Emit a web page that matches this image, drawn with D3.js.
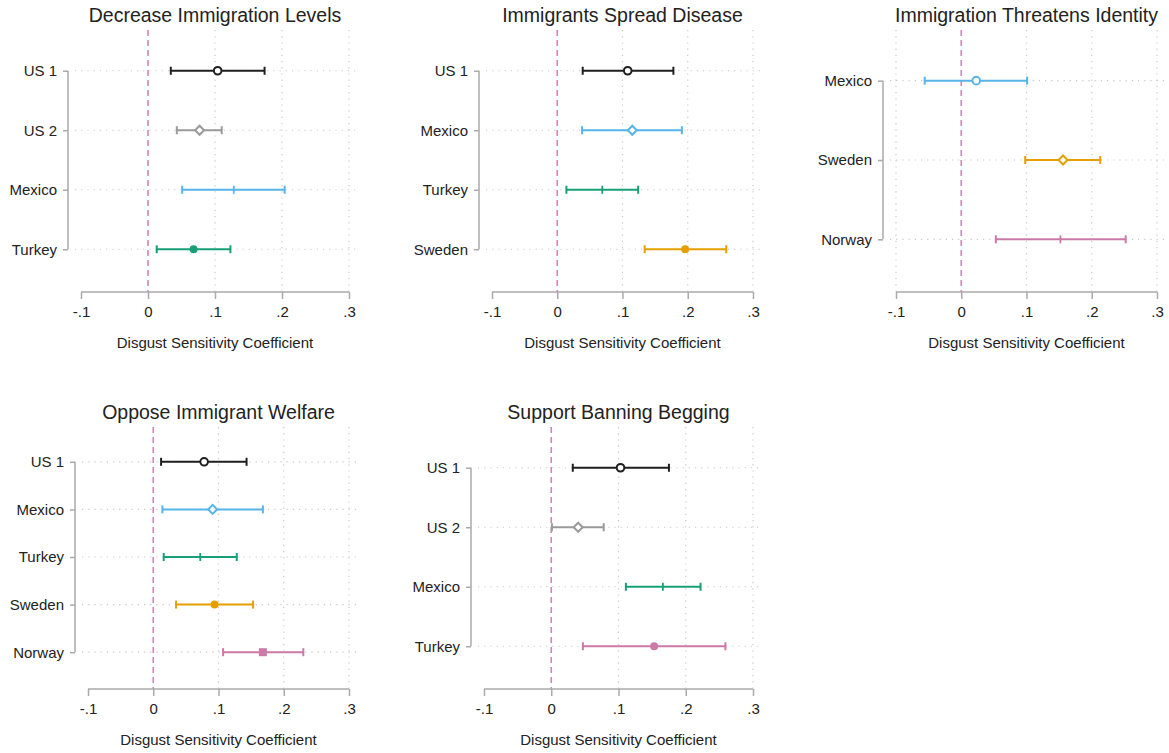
<!DOCTYPE html>
<html>
<head>
<meta charset="utf-8">
<script src="https://cdn.jsdelivr.net/npm/d3@7"></script>
<style>
  body { margin: 0; background: #fff; }
  text { font-family: "Liberation Sans", Arial, sans-serif; fill: #222; }
</style>
</head>
<body>
<div id="root"></div>
<script>
const titles = [
  "Decrease Immigration Levels",
  "Immigrants Spread Disease",
  "Immigration Threatens Identity",
  "Oppose Immigrant Welfare",
  "Support Banning Begging"
];

const categories = [
  ["US 1", "US 2", "Mexico", "Turkey"],
  ["US 1", "Mexico", "Turkey", "Sweden"],
  ["Mexico", "Sweden", "Norway"],
  ["US 1", "Mexico", "Turkey", "Sweden", "Norway"],
  ["US 1", "US 2", "Mexico", "Turkey"]
];

const estimates = [
  [0.104, 0.077, 0.128, 0.068],
  [0.108, 0.115, 0.069, 0.196],
  [0.023, 0.156, 0.152],
  [0.078, 0.091, 0.072, 0.094, 0.168],
  [0.103, 0.040, 0.166, 0.153]
];

const lower = [
  [0.034, 0.043, 0.051, 0.013],
  [0.039, 0.038, 0.014, 0.134],
  [-0.056, 0.098, 0.053],
  [0.012, 0.014, 0.016, 0.035, 0.107],
  [0.032, 0.001, 0.111, 0.047]
];

const upper = [
  [0.174, 0.110, 0.204, 0.123],
  [0.178, 0.191, 0.124, 0.259],
  [0.101, 0.213, 0.252],
  [0.143, 0.168, 0.128, 0.153, 0.230],
  [0.175, 0.078, 0.222, 0.259]
];

const xTicks = [-0.1, 0, 0.1, 0.2, 0.3];
const xTickLabels = ["-.1", "0", ".1", ".2", ".3"];
const xTitle = "Disgust Sensitivity Coefficient";

// styles
const palette = {
  black: "#1f1f1f", gray: "#9a9a9a", blue: "#56b4e9",
  green: "#17a077", orange: "#e69f00", pink: "#cc79a7"
};
const seriesColors = [
  ["black", "gray", "blue", "green"],
  ["black", "blue", "green", "orange"],
  ["blue", "orange", "pink"],
  ["black", "blue", "green", "orange", "pink"],
  ["black", "gray", "green", "pink"]
];
const markerOrder = ["circleHollow", "diamondHollow", "tick", "circle", "square"];

// layout per panel
const layout = [
  { x0: 81, x1: 349, axisY: 292, grid: [0.1, 0.2, 0.3] },
  { x0: 492, x1: 753, axisY: 292, grid: [0.1, 0.2, 0.3] },
  { x0: 896, x1: 1157, axisY: 292, grid: [-0.1, 0.1, 0.2, 0.3] },
  { x0: 88, x1: 349, axisY: 689, grid: [0.1, 0.2, 0.3] },
  { x0: 484, x1: 753, axisY: 689, grid: [0.1, 0.2, 0.3] }
];

const width = 1169;
const height = 753;
const labelFont = 15;

var svg = d3.select("#root").append("svg")
  .attr("width", width)
  .attr("height", height);

titles.forEach((title, i) => {
  const L = layout[i];
  const g = svg.append("g");

  var xScale = d3.scaleLinear()
    .domain([-0.1, 0.3])
    .range([L.x0, L.x1]);

  var yScale = d3.scalePoint()
    .domain(categories[i])
    .range([L.axisY - 251, L.axisY - 13])
    .padding(0.5);

  const top = L.axisY - 262;
  const yAxisX = L.x0 - 13;

  // vertical dotted grid
  g.selectAll(".vgrid").data(L.grid).enter().append("line")
    .attr("x1", d => xScale(d)).attr("x2", d => xScale(d))
    .attr("y1", top).attr("y2", L.axisY)
    .attr("stroke", "#c8c8c8").attr("stroke-width", 1.2)
    .attr("stroke-dasharray", "1.2,5");

  // horizontal dotted grid
  g.selectAll(".hgrid").data(categories[i]).enter().append("line")
    .attr("x1", yAxisX + 7).attr("x2", L.x1 + 8)
    .attr("y1", d => yScale(d)).attr("y2", d => yScale(d))
    .attr("stroke", "#c8c8c8").attr("stroke-width", 1.2)
    .attr("stroke-dasharray", "1.2,5");

  // zero line
  g.append("line")
    .attr("x1", xScale(0)).attr("x2", xScale(0))
    .attr("y1", top).attr("y2", L.axisY)
    .attr("stroke", "#d783b5").attr("stroke-width", 1.6)
    .attr("stroke-dasharray", "6,4");

  // x axis
  var xAxis = d3.axisBottom(xScale)
    .tickValues(xTicks)
    .tickSize(7)
    .tickFormat((d, k) => xTickLabels[k]);
  var xg = g.append("g")
    .attr("transform", "translate(0," + L.axisY + ")")
    .call(xAxis);
  xg.select(".domain").attr("stroke", "#aaa").attr("stroke-width", 1.5)
    .attr("d", "M" + L.x0 + ",0H" + L.x1);
  xg.selectAll(".tick line").attr("stroke", "#aaa").attr("stroke-width", 1.5);
  xg.selectAll(".tick text")
    .attr("y", 14)
    .attr("font-size", labelFont)
    .attr("font-family", "Liberation Sans, Arial, sans-serif")
    .attr("fill", "#222");

  // y axis
  var yAxis = d3.axisLeft(yScale).tickSize(5).tickPadding(6);
  var yg = g.append("g")
    .attr("transform", "translate(" + yAxisX + ",0)")
    .call(yAxis);
  const cats = categories[i];
  yg.select(".domain").attr("stroke", "#aaa").attr("stroke-width", 1.5)
    .attr("d", "M0," + yScale(cats[0]) + "V" + yScale(cats[cats.length - 1]));
  yg.selectAll(".tick line").attr("stroke", "#aaa").attr("stroke-width", 1.5);
  yg.selectAll(".tick text")
    .attr("font-size", labelFont)
    .attr("font-family", "Liberation Sans, Arial, sans-serif")
    .attr("fill", "#222");

  // title
  g.append("text")
    .attr("x", (L.x0 + L.x1) / 2)
    .attr("y", L.axisY - 270)
    .attr("text-anchor", "middle")
    .attr("font-size", 19.5)
    .text(title);

  // axis title
  g.append("text")
    .attr("x", (L.x0 + L.x1) / 2)
    .attr("y", L.axisY + 56)
    .attr("text-anchor", "middle")
    .attr("font-size", labelFont)
    .text(xTitle);

  // series
  const rows = cats.map((c, k) => ({
    cat: c, est: estimates[i][k], lo: lower[i][k], hi: upper[i][k],
    color: palette[seriesColors[i][k]], marker: markerOrder[k]
  }));

  const s = g.selectAll(".series").data(rows).enter().append("g");

  s.append("line")
    .attr("x1", d => xScale(d.lo)).attr("x2", d => xScale(d.hi))
    .attr("y1", d => yScale(d.cat)).attr("y2", d => yScale(d.cat))
    .attr("stroke", d => d.color).attr("stroke-width", 2);

  ["lo", "hi"].forEach(key => {
    s.append("line")
      .attr("x1", d => xScale(d[key])).attr("x2", d => xScale(d[key]))
      .attr("y1", d => yScale(d.cat) - 4).attr("y2", d => yScale(d.cat) + 4)
      .attr("stroke", d => d.color).attr("stroke-width", 2);
  });

  s.each(function(d) {
    const m = d3.select(this);
    const cx = xScale(d.est), cy = yScale(d.cat);
    if (d.marker === "circleHollow") {
      m.append("circle").attr("cx", cx).attr("cy", cy).attr("r", 3.8)
        .attr("fill", "#fff").attr("stroke", d.color).attr("stroke-width", 2);
    } else if (d.marker === "diamondHollow") {
      m.append("path")
        .attr("d", d3.symbol().type(d3.symbolSquare).size(40)())
        .attr("transform", "translate(" + cx + "," + cy + ") rotate(45)")
        .attr("fill", "#fff").attr("stroke", d.color).attr("stroke-width", 2);
    } else if (d.marker === "tick") {
      m.append("line")
        .attr("x1", cx).attr("x2", cx).attr("y1", cy - 4).attr("y2", cy + 4)
        .attr("stroke", d.color).attr("stroke-width", 1.8);
    } else if (d.marker === "circle") {
      m.append("circle").attr("cx", cx).attr("cy", cy).attr("r", 4)
        .attr("fill", d.color);
    } else if (d.marker === "square") {
      m.append("path")
        .attr("d", d3.symbol().type(d3.symbolSquare).size(64)())
        .attr("transform", "translate(" + cx + "," + cy + ")")
        .attr("fill", d.color);
    }
  });
});
</script>
</body>
</html>
